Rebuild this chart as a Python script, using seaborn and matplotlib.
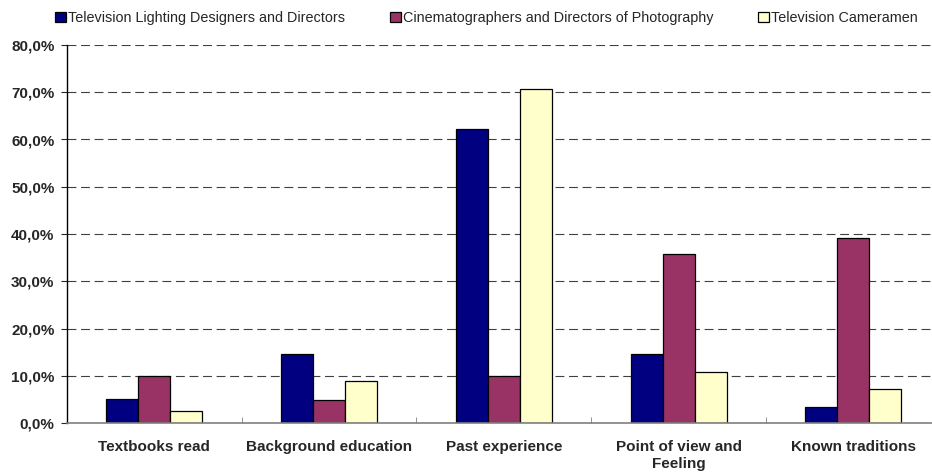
import pandas as pd
import seaborn as sns
import matplotlib.pyplot as plt
from matplotlib.ticker import FuncFormatter, MultipleLocator

categories = ["Textbooks read", "Background education", "Past experience",
              "Point of view and\nFeeling", "Known traditions"]
series = ["Television Lighting Designers and Directors",
          "Cinematographers and Directors of Photography",
          "Television Cameramen"]
lighting = [5.0, 14.6, 62.2, 14.6, 3.4]
cinematographers = [10.0, 4.9, 10.0, 35.8, 39.2]
cameramen = [2.5, 8.9, 70.6, 10.8, 7.2]
colors = ["#000080", "#993366", "#FFFFCC"]

rows = []
for name, vals in zip(series, [lighting, cinematographers, cameramen]):
    for cat, v in zip(categories, vals):
        rows.append({"category": cat, "group": name, "value": v})
df = pd.DataFrame(rows)

sns.set_style("white")
plt.rcParams['font.family'] = ['Liberation Sans', 'DejaVu Sans']

fig = plt.figure(figsize=(9.32, 4.73), dpi=100)
ax = fig.add_axes([67 / 932, 1 - 423 / 473, 865 / 932, 378 / 473])

sns.barplot(data=df, x="category", y="value", hue="group", order=categories,
            hue_order=series, palette=colors, saturation=1, width=0.55, gap=0,
            edgecolor="black", linewidth=0.9, ax=ax, legend=True)

ax.set_ylim(0, 80)
ax.set_xlim(-0.5, 4.45)
ax.yaxis.set_major_locator(MultipleLocator(10))
ax.yaxis.set_major_formatter(FuncFormatter(lambda v, p: f"{v:.1f}%".replace(".", ",")))
ax.grid(axis="y", linestyle=(0, (8, 4.2)), color="#404040", linewidth=0.8)
ax.set_axisbelow(True)
ax.set_xlabel("")
ax.set_ylabel("")

for s in ["top", "right"]:
    ax.spines[s].set_visible(False)
ax.spines["left"].set_color("black")
ax.spines["bottom"].set_color("#808080")
ax.spines["left"].set_linewidth(1)
ax.spines["bottom"].set_linewidth(1.2)

ax.tick_params(axis="y", left=True, length=4, width=0.8, direction="out", pad=5)
ax.tick_params(axis="x", bottom=False, pad=9)
ax.set_xticks([i + 0.5 for i in range(4)], minor=True)
ax.tick_params(axis="x", which="minor", bottom=True, direction="in", length=4, color="#808080")
for lbl in ax.get_xticklabels() + ax.get_yticklabels():
    lbl.set_fontweight("bold")
    lbl.set_fontsize(11)

handles, labels = ax.get_legend_handles_labels()
ax.get_legend().remove()
fig.legend(handles, labels, loc="center left", bbox_to_anchor=(55 / 932, 1 - 18 / 473), ncol=3,
           frameon=False, fontsize=10.4, handlelength=0.75, handleheight=0.75,
           handletextpad=0.15, columnspacing=3.1, borderpad=0, borderaxespad=0)

plt.savefig("out.png", dpi=100)
